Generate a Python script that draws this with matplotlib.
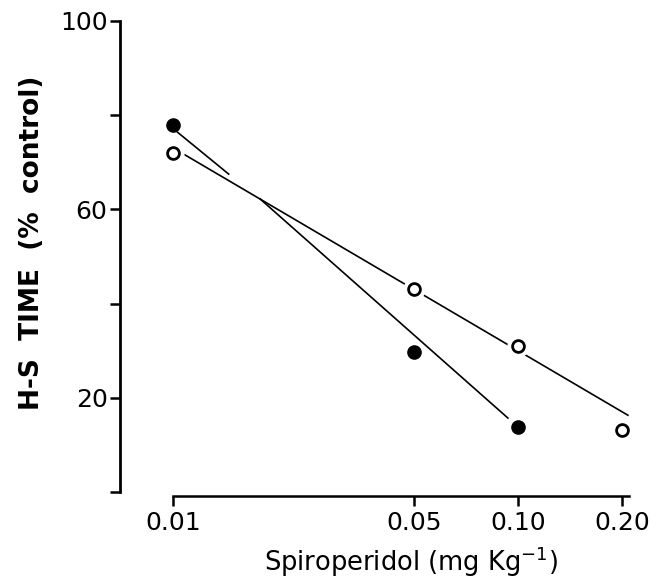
import numpy as np
import matplotlib
matplotlib.use("Agg")
import matplotlib.pyplot as plt

# Dose (mg/kg) and H-S time (% control)
dose_filled = [0.01, 0.05, 0.10]
hs_filled = [78, 29.7, 13.8]
dose_open = [0.01, 0.05, 0.10, 0.20]
hs_open = [72, 43, 31, 13.2]

# Fitted lines as drawn (filled line is broken where it meets the open line)
fit_filled_a_x = [0.0103, 0.0145]
fit_filled_a_y = [76.4, 67.5]
fit_filled_b_x = [0.0179, 0.0935]
fit_filled_b_y = [62.2, 15.7]
fit_open_x = [0.0107, 0.2083]
fit_open_y = [71.8, 16.3]

x_ticks = [0.01, 0.05, 0.10, 0.20]
x_ticklabels = ["0.01", "0.05", "0.10", "0.20"]
y_ticks = [0, 20, 40, 60, 80, 100]
y_ticklabels = ["", "20", "", "60", "", "100"]

plt.rcParams['font.family'] = ['DejaVu Sans']

fig = plt.figure(figsize=(6.67, 5.82), dpi=100)
ax = fig.add_axes([120 / 667, (582 - 492) / 582, 520 / 667, 471 / 582])

ax.set_xscale('log')
ax.set_xlim(0.00702, 0.2258)
ax.set_ylim(0, 100)

# lines
ax.plot(fit_filled_a_x, fit_filled_a_y, color='black', lw=1.2, zorder=2)
ax.plot(fit_filled_b_x, fit_filled_b_y, color='black', lw=1.2, zorder=2)
ax.plot(fit_open_x, fit_open_y, color='black', lw=1.2, zorder=2)

# white halo so the line breaks around the open circles
ax.plot(dose_open, hs_open, linestyle='none', marker='o', markersize=15,
        markerfacecolor='white', markeredgecolor='white', zorder=3)
ax.plot(dose_open, hs_open, linestyle='none', marker='o', markersize=8.5,
        markerfacecolor='white', markeredgecolor='black', markeredgewidth=2.0, zorder=4)
ax.plot(dose_filled, hs_filled, linestyle='none', marker='o', markersize=9.5,
        markerfacecolor='black', markeredgecolor='black', zorder=4)

# axes styling
for s in ['top', 'right']:
    ax.spines[s].set_visible(False)
ax.spines['left'].set_linewidth(2.0)
ax.spines['bottom'].set_linewidth(1.8)
ax.spines['bottom'].set_position(('outward', 3))
ax.spines['bottom'].set_bounds(0.01, 0.21)

ax.set_xticks(x_ticks)
ax.set_xticklabels(x_ticklabels)
ax.xaxis.set_minor_locator(matplotlib.ticker.NullLocator())
ax.set_yticks(y_ticks)
ax.set_yticklabels(y_ticklabels)

ax.tick_params(axis='both', direction='out', length=7, width=1.8, labelsize=18, pad=4)
ax.tick_params(axis='y', pad=2)

fig.text(32 / 667, 1 - 243 / 582, "H-S  TIME  (%  control)", rotation=90,
         ha='center', va='center', fontsize=19, fontweight='bold')
fig.text(411 / 667, 1 - 562 / 582, "Spiroperidol (mg Kg$^{-1}$)",
         ha='center', va='center', fontsize=18.5)

fig.savefig("out.png", dpi=100)
